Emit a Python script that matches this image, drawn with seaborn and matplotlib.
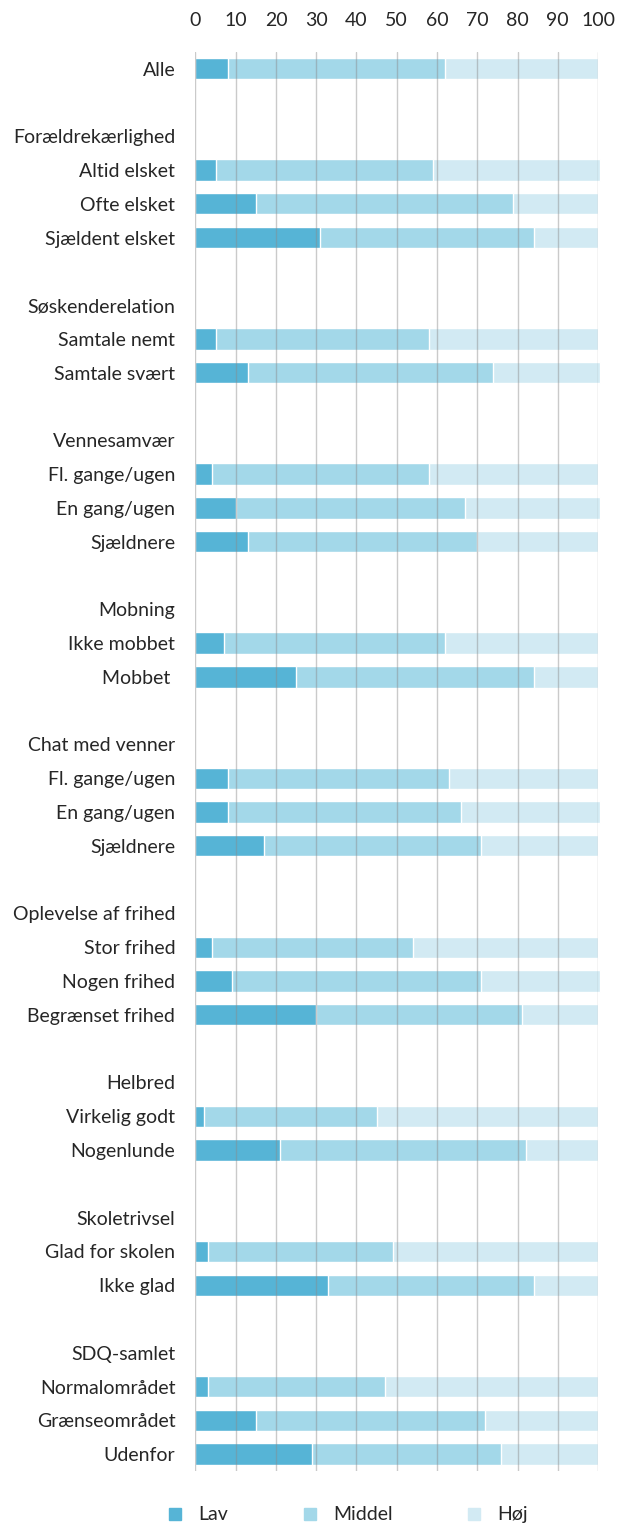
import numpy as np
import pandas as pd
import matplotlib
matplotlib.use("Agg")
import matplotlib.pyplot as plt
from matplotlib.lines import Line2D
import seaborn as sns

# Row labels from top to bottom; "" = spacer row, headers carry no bars
labels = [
    "Alle", "",
    "Forældrekærlighed", "Altid elsket", "Ofte elsket", "Sjældent elsket", "",
    "Søskenderelation", "Samtale nemt", "Samtale svært", "",
    "Vennesamvær", "Fl. gange/ugen", "En gang/ugen", "Sjældnere", "",
    "Mobning", "Ikke mobbet", "Mobbet ", "",
    "Chat med venner", "Fl. gange/ugen", "En gang/ugen", "Sjældnere", "",
    "Oplevelse af frihed", "Stor frihed", "Nogen frihed", "Begrænset frihed", "",
    "Helbred", "Virkelig godt", "Nogenlunde", "",
    "Skoletrivsel", "Glad for skolen", "Ikke glad", "",
    "SDQ-samlet", "Normalområdet", "Grænseområdet", "Udenfor",
]

# Shares (%) per row; None = no bar on that row
lav = [8, None,
       None, 5, 15, 31, None,
       None, 5, 13, None,
       None, 4, 10, 13, None,
       None, 7, 25, None,
       None, 8, 8, 17, None,
       None, 4, 9, 30, None,
       None, 2, 21, None,
       None, 3, 33, None,
       None, 3, 15, 29]
middel = [54, None,
          None, 54, 64, 53, None,
          None, 53, 61, None,
          None, 54, 57, 57, None,
          None, 55, 59, None,
          None, 55, 58, 54, None,
          None, 50, 62, 51, None,
          None, 43, 61, None,
          None, 46, 51, None,
          None, 44, 57, 47]
hoej = [38, None,
        None, 41.5, 21, 16, None,
        None, 42, 26.5, None,
        None, 42, 33.5, 30, None,
        None, 38, 16, None,
        None, 37, 34.5, 29, None,
        None, 46, 29.5, 19, None,
        None, 55, 18, None,
        None, 51, 16, None,
        None, 53, 28, 24]

series_names = ["Lav", "Middel", "Høj"]
colors = ["#56B4D6", "#A3D8E9", "#D2EAF3"]

rows = [f"r{i:02d}" for i in range(len(labels))]
df = pd.DataFrame({"row": rows, "Lav": lav, "Middel": middel, "Høj": hoej})
df = df.dropna().copy()
df["c1"] = df["Lav"]
df["c2"] = df["Lav"] + df["Middel"]
df["c3"] = df["c2"] + df["Høj"]

sns.set_style("white")
plt.rcParams["font.family"] = ["Lato", "DejaVu Sans"]
text_color = "#262626"

fig = plt.figure(figsize=(6.19, 15.25), dpi=100)
ax = fig.add_axes([0.3158, 0.0354, 0.6503, 0.9307])

# Stacked horizontal bars: draw cumulative totals from longest to shortest
for col, color in zip(["c3", "c2", "c1"], colors[::-1]):
    sns.barplot(data=df, x=col, y="row", order=rows, orient="h",
                color=color, width=0.63, saturation=1, ax=ax, errorbar=None)

# Totals rounded above 100 may run slightly past the last gridline
for p in ax.patches:
    p.set_clip_on(False)

ax.set_xlim(0, 100)
ax.set_ylim(len(rows) - 0.5, -0.5)
ax.set_xticks(np.arange(0, 101, 10))
ax.xaxis.tick_top()
ax.tick_params(axis="x", length=0, pad=16, labelsize=14, colors=text_color)
ax.tick_params(axis="y", length=0, pad=14.5, labelsize=14, colors=text_color)
ax.set_yticks(range(len(rows)))
ax.set_yticklabels(labels)
ax.set_xlabel("")
ax.set_ylabel("")

ax.set_axisbelow(False)
ax.grid(axis="x", color="#8a8a8a", alpha=0.45, linewidth=1.0)
ax.grid(axis="y", visible=False)
for s in ax.spines.values():
    s.set_visible(False)

handles = [Line2D([0], [0], marker="s", linestyle="none", markersize=9,
                  markerfacecolor=c, markeredgecolor=c) for c in colors]
fig.legend(handles, series_names, loc="center", bbox_to_anchor=(0.552, 0.0066),
           ncol=3, frameon=False, fontsize=14, handletextpad=0.2,
           columnspacing=3.2, labelcolor=text_color)

fig.savefig("out.png", dpi=100)
